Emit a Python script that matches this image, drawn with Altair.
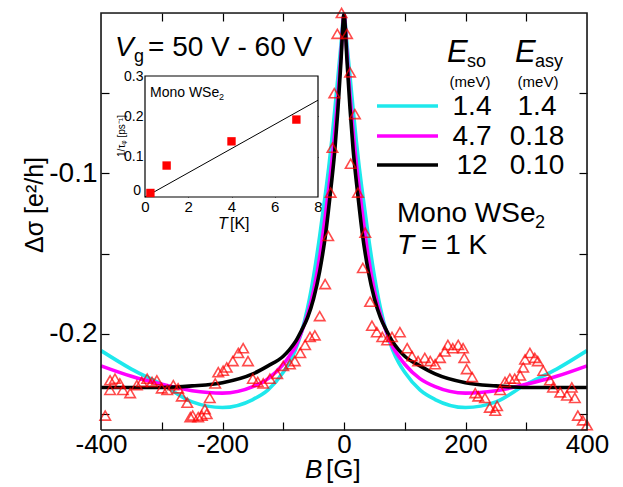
import altair as alt
import pandas as pd

FONT = "Liberation Sans"

# ---------------- data: measured points (triangles) ----------------
B_pts = [-393, -385, -385, -377, -369, -364, -352, -341, -333, -324, -316, -308, -300, -291,
         -281, -273, -267, -258, -253, -249, -240, -234, -229, -226, -221, -212, -207, -199,
         -193, -183, -174, -166, -158, -150, -142, -133, -122, -110, -100, -89, -81, -72, -64,
         -56, -48, -40, -31, -26, -22, -19, -16, -11, -4,
         5, 10, 18, 11, 23, 35, 31, 43, 46, 54, 63, 71, 79, 92, 104, 112, 122, 133, 142, 150,
         158, 166, 171, 179, 188, 196, 198, 202, 211, 216, 221, 232, 240, 249, 252, 257, 265,
         273, 281, 290, 295, 298, 306, 314, 319, 328, 339, 344, 356, 367, 375, 380, 385, 393, 400]
S_pts = [-0.251, -0.229, -0.235, -0.228, -0.231, -0.235, -0.237, -0.232, -0.230, -0.228, -0.230,
         -0.229, -0.234, -0.235, -0.232, -0.234, -0.239, -0.243, -0.252, -0.251, -0.252, -0.251,
         -0.247, -0.250, -0.240, -0.231, -0.224, -0.223, -0.221, -0.217, -0.212, -0.209, -0.217,
         -0.228, -0.230, -0.231, -0.228, -0.225, -0.220, -0.219, -0.217, -0.212, -0.207, -0.202,
         -0.201, -0.189, -0.169, -0.139, -0.112, -0.084, -0.050, -0.013, 0.000,
         -0.013, -0.037, -0.063, -0.094, -0.112, -0.137, -0.159, -0.180, -0.195, -0.199, -0.202,
         -0.204, -0.202, -0.199, -0.209, -0.214, -0.217, -0.215, -0.217, -0.219, -0.215, -0.211,
         -0.207, -0.209, -0.207, -0.209, -0.215, -0.222, -0.227, -0.237, -0.239, -0.240, -0.246,
         -0.248, -0.245, -0.235, -0.230, -0.228, -0.228, -0.226, -0.221, -0.216, -0.212, -0.215,
         -0.217, -0.223, -0.229, -0.2335, -0.2365, -0.2385, -0.2335, -0.240, -0.251, -0.254, -0.257]

# ---------------- fitted curves ----------------
B_fit = [-400, -350, -300, -250, -200, -150, -125, -100, -90, -80, -70, -60, -50, -40, -30, -25,
         -20, -15, -10, -5, 0, 5, 10, 15, 20, 25, 30, 40, 50, 60, 70, 80, 90, 100, 125, 150, 200,
         250, 300, 350, 400]
fit_cyan = [-0.2105, -0.222, -0.2315, -0.2425, -0.246, -0.241, -0.235, -0.224, -0.218, -0.210,
            -0.199, -0.184, -0.164, -0.139, -0.111, -0.096, -0.079, -0.060, -0.040, -0.020, -0.001,
            -0.020, -0.040, -0.060, -0.079, -0.096, -0.111, -0.139, -0.164, -0.184, -0.199, -0.210,
            -0.218, -0.224, -0.235, -0.241, -0.246, -0.2425, -0.2315, -0.222, -0.2105]
fit_magenta = [-0.220, -0.2265, -0.2315, -0.2355, -0.237, -0.233, -0.228, -0.219, -0.214, -0.208,
               -0.199, -0.188, -0.173, -0.152, -0.124, -0.109, -0.093, -0.074, -0.052, -0.026,
               -0.001, -0.026, -0.052, -0.074, -0.093, -0.109, -0.124, -0.152, -0.173, -0.188,
               -0.199, -0.208, -0.214, -0.219, -0.228, -0.233, -0.237, -0.2355, -0.2315, -0.2265,
               -0.220]
fit_black = [-0.2335, -0.2335, -0.2335, -0.2325, -0.2305, -0.225, -0.220, -0.214, -0.210, -0.205,
             -0.198, -0.190, -0.178, -0.161, -0.137, -0.121, -0.104, -0.085, -0.060, -0.030,
             -0.001, -0.030, -0.060, -0.085, -0.104, -0.121, -0.137, -0.161, -0.178, -0.190,
             -0.198, -0.205, -0.210, -0.214, -0.220, -0.225, -0.2305, -0.2325, -0.2335, -0.2335,
             -0.2335]

# legend table
E_so = ["1.4", "4.7", "12"]
E_asy = ["1.4", "0.18", "0.10"]
curve_colors = ["#1ee8ec", "#ff00ff", "#000000"]

# ---------------- inset ----------------
T_inset = [0.25, 1.0, 4.0, 7.0]
rate_inset = [0.010, 0.078, 0.138, 0.192]
T_line = [0, 8]
rate_line = [0.0, 0.24]

# axis ticks / plot box limits
x_labels = [-400, -200, 0, 200, 400]
x_ticks = [-300, -200, -100, 0, 100, 200, 300]
y_labels = [-0.2, -0.1]
y_ticks = [-0.25, -0.2, -0.15, -0.1, -0.05]
x_lim = [-400, 400]
y_lim = [-0.26, 0.0]

# ---------------- layout ----------------
W, H = 486, 417
OX, OY = 101, 13
FS = 28
FRAME = "#1a1a1a"

xs = alt.Scale(domain=x_lim, nice=False, zero=False)
ys = alt.Scale(domain=y_lim, nice=False, zero=False)

pts = pd.DataFrame({"B": B_pts, "s": S_pts})
one = pd.DataFrame({"a": [0]})

def xax(**kw):
    base = dict(title=None, grid=False, labelFont=FONT, labelColor="black")
    base.update(kw)
    return alt.Axis(**base)

points = alt.Chart(pts).mark_point(shape="triangle-up", filled=False, color="#ff0000",
                                   size=110, strokeWidth=1.6, clip=False).encode(
    x=alt.X("B:Q", scale=xs, axis=xax(orient="bottom", values=x_labels, ticks=False, domain=False,
                                      labelFlush=False, labelFontSize=26, labelPadding=1,
                                      labelExpr="datum.value < 0 ? '-' + format(abs(datum.value), 'd') : format(datum.value, 'd')")),
    y=alt.Y("s:Q", scale=ys, axis=xax(orient="left", values=y_labels, ticks=False, domain=False,
                                      labelFlush=False, labelFontSize=FS, labelPadding=4,
                                      labelExpr="'-' + format(abs(datum.value), '.1f')")),
)

TL = 8
tick_bl = alt.Chart(pts).mark_point(opacity=0).encode(
    x=alt.X("B:Q", scale=xs, axis=xax(orient="bottom", values=x_ticks, labels=False, domain=False,
                                      tickSize=TL, offset=-TL, tickColor="black", tickWidth=1.2)),
    y=alt.Y("s:Q", scale=ys, axis=xax(orient="left", values=y_ticks, labels=False, domain=False,
                                      tickSize=TL, offset=-TL, tickColor="black", tickWidth=1.2)),
)
tick_tr = alt.Chart(pts).mark_point(opacity=0).encode(
    x=alt.X("B:Q", scale=xs, axis=xax(orient="top", values=x_ticks, labels=False, domain=False,
                                      tickSize=TL, offset=-TL, tickColor="black", tickWidth=1.2)),
    y=alt.Y("s:Q", scale=ys, axis=xax(orient="right", values=y_ticks, labels=False, domain=False,
                                      tickSize=TL, offset=-TL, tickColor="black", tickWidth=1.2)),
)

def curve(vals, color):
    df = pd.DataFrame({"B": B_fit, "s": vals})
    return alt.Chart(df).mark_line(color=color, strokeWidth=3.6, interpolate="monotone").encode(
        x=alt.X("B:Q", scale=xs, axis=None), y=alt.Y("s:Q", scale=ys, axis=None))

# plot box outline drawn as a closed line path through the four corners of the data box
box = pd.DataFrame({
    "B": [x_lim[0], x_lim[1], x_lim[1], x_lim[0], x_lim[0]],
    "s": [y_lim[0], y_lim[0], y_lim[1], y_lim[1], y_lim[0]],
    "k": [0, 1, 2, 3, 4],
})
frame_line = alt.Chart(box).mark_line(color=FRAME, strokeWidth=1.6, interpolate="linear").encode(
    x=alt.X("B:Q", scale=xs, axis=None), y=alt.Y("s:Q", scale=ys, axis=None),
    order=alt.Order("k:Q"))

def txt(s, x, y, size=FS, italic=False, align="left", baseline="alphabetic", angle=None, font=FONT):
    kw = dict(text=s, fontSize=size, font=font, fontStyle="italic" if italic else "normal",
              align=align, baseline=baseline, color="black")
    if angle is not None:
        kw["angle"] = angle
    return alt.Chart(one).mark_text(**kw).encode(x=alt.value(x - OX), y=alt.value(y - OY))

legend_y = [106, 136, 165]
legend_layers = []
for i in range(3):
    legend_layers.append(
        alt.Chart(one).mark_rule(color=curve_colors[i], strokeWidth=3.6).encode(
            x=alt.value(377 - OX), x2=alt.value(438 - OX), y=alt.value(legend_y[i] - OY)))
    legend_layers.append(txt(E_so[i], 472, legend_y[i] + 9, align="center"))
    legend_layers.append(txt(E_asy[i], 537, legend_y[i] + 9, align="center"))

texts = [
    txt("V", 115, 56, italic=True),
    txt("g", 134, 62, size=18),
    txt("= 50 V - 60 V", 148, 56),
    txt("E", 447, 62, size=31, italic=True),
    txt("so", 467, 67, size=18),
    txt("E", 515, 62, size=31, italic=True),
    txt("asy", 535, 67, size=18),
    txt("(meV)", 470, 87, size=15, align="center"),
    txt("(meV)", 538, 87, size=15, align="center"),
    txt("Mono WSe", 397, 222),
    txt("2", 535, 228, size=18),
    txt("T", 397, 254, italic=True),
    txt("= 1 K", 421, 254),
    txt("B", 305, 478, size=26, italic=True),
    txt("[G]", 326, 478, size=26),
    txt("Δσ [e²/h]", 35, 205, size=25, angle=270, align="center", baseline="middle"),
]

main = alt.layer(
    tick_bl, tick_tr,
    curve(fit_cyan, curve_colors[0]),
    curve(fit_magenta, curve_colors[1]),
    curve(fit_black, curve_colors[2]),
    points, frame_line,
    *legend_layers, *texts,
).resolve_axis(x="independent", y="independent")

# ---------------- inset chart ----------------
IL, IR, IT, IB = 145 - OX, 318 - OX, 76 - OY, 197 - OY
ixs = alt.Scale(domain=[0, 8], range=[IL, IR], nice=False, zero=False)
iys = alt.Scale(domain=[0, 0.3], range=[IB, IT], nice=False, zero=False)

frame_df = pd.DataFrame({"x": [0], "x2": [8], "y": [0], "y2": [0.3]})
iframe = alt.Chart(frame_df).mark_rect(fill="white", stroke="black", strokeWidth=1.2).encode(
    x=alt.X("x:Q", scale=ixs, axis=xax(orient="bottom", values=[0, 2, 4, 6, 8], ticks=False,
                                       domain=False, labelFlush=False, labelFontSize=15, labelPadding=2,
                                       offset=-(H - IB))),
    x2="x2:Q",
    y=alt.Y("y:Q", scale=iys, axis=xax(orient="left", values=[0.1, 0.2, 0.3], ticks=False,
                                       domain=False, labelFlush=False, labelFontSize=14, labelPadding=2,
                                       offset=-IL, labelExpr="format(datum.value, '.1f')")),
    y2="y2:Q",
)
ITL = 4
itick_bl = alt.Chart(frame_df).mark_point(opacity=0).encode(
    x=alt.X("x:Q", scale=ixs, axis=xax(orient="bottom", values=[2, 4, 6], labels=False, domain=False,
                                       tickSize=ITL, offset=-(H - IB) - ITL, tickColor="black")),
    y=alt.Y("y:Q", scale=iys, axis=xax(orient="left", values=[0.1, 0.2], labels=False, domain=False,
                                       tickSize=ITL, offset=-IL - ITL, tickColor="black")),
)
itick_tr = alt.Chart(frame_df).mark_point(opacity=0).encode(
    x=alt.X("x:Q", scale=ixs, axis=xax(orient="top", values=[2, 4, 6], labels=False, domain=False,
                                       tickSize=ITL, offset=-IT - ITL, tickColor="black")),
    y=alt.Y("y:Q", scale=iys, axis=xax(orient="right", values=[0.1, 0.2], labels=False, domain=False,
                                       tickSize=ITL, offset=-(W - IR) - ITL, tickColor="black")),
)
iline = alt.Chart(pd.DataFrame({"T": T_line, "r": rate_line})).mark_line(color="black", strokeWidth=1).encode(
    x=alt.X("T:Q", scale=ixs, axis=None), y=alt.Y("r:Q", scale=iys, axis=None))
isq = alt.Chart(pd.DataFrame({"T": T_inset, "r": rate_inset})).mark_point(
    shape="square", filled=True, color="#ff0000", size=70, opacity=1).encode(
    x=alt.X("T:Q", scale=ixs, axis=None), y=alt.Y("r:Q", scale=iys, axis=None))

itexts = [
    txt("0", 141, 191, size=14, align="right", baseline="middle"),
    txt("Mono WSe", 150, 97, size=14),
    txt("2", 219, 100, size=9),
    txt("T", 218, 229, size=16, italic=True),
    txt("[K]", 230, 229, size=16),
    txt("1/τᵩ [ps⁻¹]", 122, 136, size=10, angle=270, align="center", baseline="middle"),
]

inset = alt.layer(iframe, itick_bl, itick_tr, iline, isq, *itexts).resolve_axis(
    x="independent", y="independent")

chart = alt.layer(main, inset).resolve_scale(x="independent", y="independent").properties(
    width=W, height=H,
    padding={"left": OX, "top": OY, "right": 623 - OX - W, "bottom": 487 - OY - H},
    autosize=alt.AutoSizeParams(type="none"),
).configure_view(strokeWidth=0).configure(background="white")

chart.save("out.html", embed_options={"renderer": "svg", "actions": False})
